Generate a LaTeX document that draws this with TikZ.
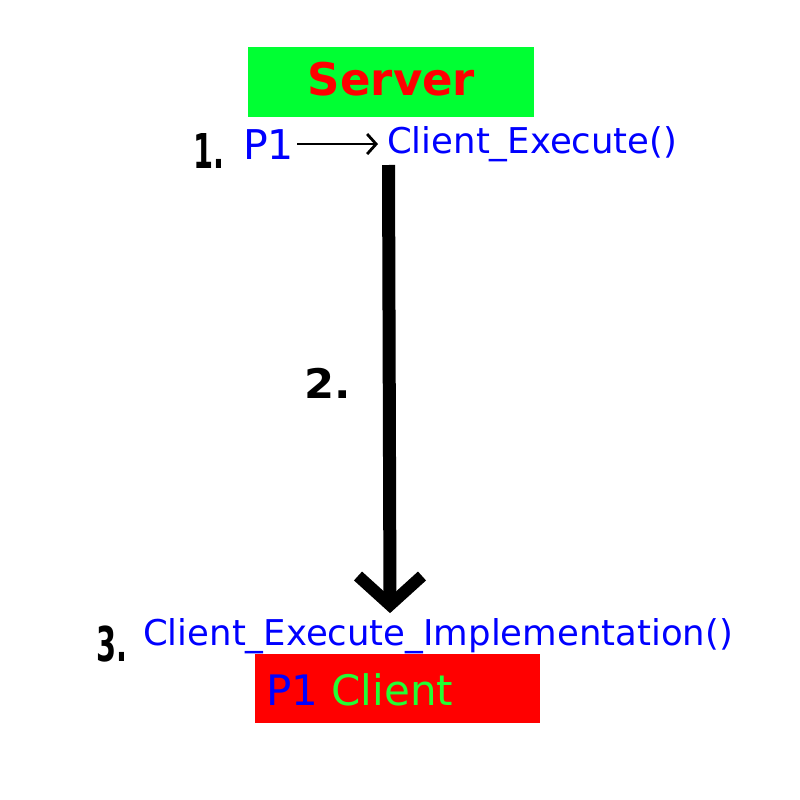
\documentclass[tikz,border=0pt]{standalone}
\usepackage{fontspec}
\setmainfont{DejaVu Sans}
\usetikzlibrary{arrows.meta,calc}
\definecolor{srvgreen}{HTML}{00FF33}
\definecolor{txtgreen}{HTML}{22FF33}
\definecolor{pureblue}{HTML}{0000FF}
\definecolor{purered}{HTML}{FF0000}
\begin{document}
\begin{tikzpicture}[x=1pt,y=-1pt,
  box/.style={inner sep=0pt, anchor=north west},
  lbl/.style={inner sep=0pt, anchor=base west},
  fnumber/.style={inner sep=0pt, anchor=base west, font=\fontsize{48}{48}\selectfont\bfseries},
  code/.style={lbl, text=pureblue, font=\fontsize{35.5}{36}\selectfont}]
\useasboundingbox (0,0) rectangle (800,800);
\fill[white] (0,0) rectangle (800,800);
% server box
\node[box, fill=srvgreen, minimum width=286pt, minimum height=70pt] (server) at (247.5,47) {};
\node[inner sep=0pt, anchor=base, text=purered, font=\fontsize{45}{45}\selectfont\bfseries] (servertxt) at (391.5,95) {Server};
% step 1
\node[fnumber] (n1) at (193,168) {\scalebox{0.6}[1]{1.}};
\node[lbl, text=pureblue, font=\fontsize{41}{41}\selectfont] (p1) at (243,159) {P1};
\node[code] (ce) at (387,153) {Client\_Execute()};
\draw[line width=2.8pt, -{Straight Barb[length=9pt,width=20pt]}] ([xshift=3pt]p1.east) -- ([xshift=-9pt]ce.west |- p1.east);
% step 2
\coordinate (a) at (388.5,165);
\coordinate (b) at (390,605);
\draw[line width=13pt] (a) -- (b);
\draw[line width=12pt, line join=miter] ($(b)+(-32,-29)$) -- (b) -- ($(b)+(32,-29)$);
\node[fnumber] (n2) at (304,398) {\scalebox{0.9}[0.85]{2.}};
% step 3
\node[fnumber] (n3) at (96,661) {\scalebox{0.6}[1]{3.}};
\node[code] (cei) at (143,645) {Client\_Execute\_Implementation()};
% client box
\node[box, fill=purered, minimum width=285pt, minimum height=69pt] (client) at (255,654) {};
\node[lbl, font=\fontsize{42}{42}\selectfont] (clienttxt) at (266,705) {\textcolor{pureblue}{P1} \textcolor{txtgreen}{Client}};
\end{tikzpicture}
\end{document}
